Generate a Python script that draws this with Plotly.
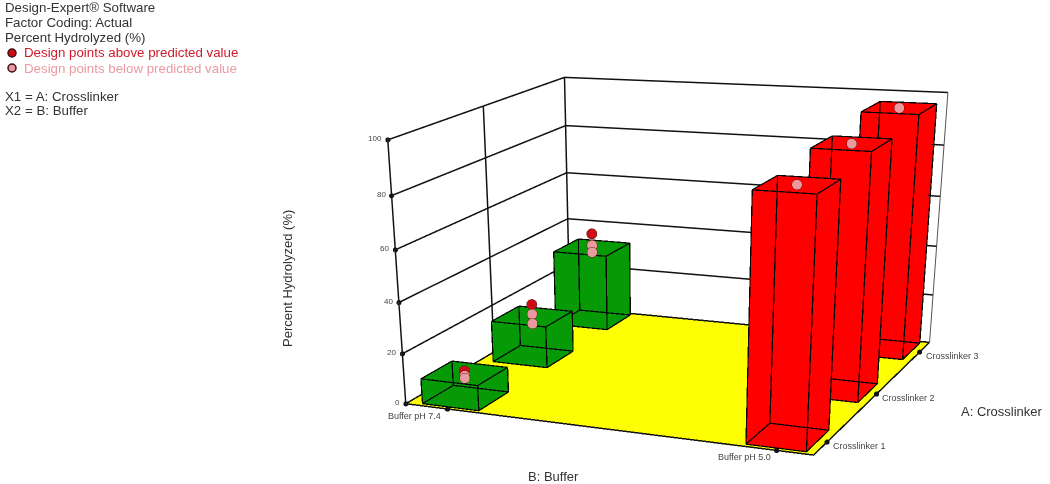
import plotly.graph_objects as go

# factor levels
buffers = ["Buffer pH 7.4", "Buffer pH 5.0"]
crosslinkers = ["Crosslinker 1", "Crosslinker 2", "Crosslinker 3"]

# bar heights, one list per buffer, in crosslinker order
percent_ph74 = [10, 17, 32]
percent_ph50 = [90, 93, 96]

# design points around the bars
above_ph74 = [11, 22, 38]
below_ph74_a = [9, 18, 33]
below_ph74_b = [8, 14, 30]
below_ph50 = [90, 93, 96]

z_ticks = [0, 20, 40, 60, 80, 100]

info_lines = ["Design-Expert® Software", "Factor Coding: Actual", "Percent Hydrolyzed (%)"]
info_above = "Design points above predicted value"
info_below = "Design points below predicted value"
info_factors = ["X1 = A: Crosslinker", "X2 = B: Buffer"]

FIG_W = 1050
FIG_H = 1500  # view angle is fixed at 45 degrees, so the scene must be this tall for the flat perspective

X_RANGE = [-0.139, 1.103]
Y_RANGE = [0.75, 3.25]
Z_RANGE = [0, 100]
PAD = 0.005  # scene slightly larger than the frame, lines on its bounds get clipped otherwise
BAR_CX = [0, 0.992]
BAR_DX = [0.093, 0.085]
BAR_DY = 0.21

GREEN = "#069b06"
RED = "#ff0000"
YELLOW = "#ffff00"
FLAT = dict(ambient=1, diffuse=0, specular=0, roughness=1, fresnel=0)


def py(y):
    return 1 - y / FIG_H


def padded(r):
    d = (r[1] - r[0]) * PAD
    return [r[0] - d, r[1] + d]


def box_mesh(x0, x1, y0, y1, z0, z1, color):
    return go.Mesh3d(
        x=[x0, x1, x1, x0, x0, x1, x1, x0],
        y=[y0, y0, y1, y1, y0, y0, y1, y1],
        z=[z0, z0, z0, z0, z1, z1, z1, z1],
        i=[0, 0, 4, 4, 0, 0, 1, 1, 2, 2, 3, 3],
        j=[1, 2, 5, 6, 1, 5, 2, 6, 3, 7, 0, 4],
        k=[2, 3, 6, 7, 5, 4, 6, 5, 7, 6, 4, 7],
        color=color,
        opacity=0.99,
        lighting=FLAT,
        flatshading=True,
        hoverinfo="skip",
        showscale=False,
    )


def box_edges(x0, x1, y0, y1, z0, z1):
    xs, ys, zs = [], [], []
    for a, b in [
        ((x0, y0, z0), (x1, y0, z0)), ((x1, y0, z0), (x1, y1, z0)),
        ((x1, y1, z0), (x0, y1, z0)), ((x0, y1, z0), (x0, y0, z0)),
        ((x0, y0, z1), (x1, y0, z1)), ((x1, y0, z1), (x1, y1, z1)),
        ((x1, y1, z1), (x0, y1, z1)), ((x0, y1, z1), (x0, y0, z1)),
        ((x0, y0, z0), (x0, y0, z1)), ((x1, y0, z0), (x1, y0, z1)),
        ((x1, y1, z0), (x1, y1, z1)), ((x0, y1, z0), (x0, y1, z1)),
    ]:
        xs += [a[0], b[0], None]
        ys += [a[1], b[1], None]
        zs += [a[2], b[2], None]
    return go.Scatter3d(
        x=xs, y=ys, z=zs, mode="lines", opacity=0.99,
        line=dict(color="#050505", width=2.5),
        hoverinfo="skip", showlegend=False,
    )


def frame_line(xs, ys, zs, color="#111111", width=3, opacity=1):
    return go.Scatter3d(
        x=xs, y=ys, z=zs, mode="lines", opacity=opacity,
        line=dict(color=color, width=width),
        hoverinfo="skip", showlegend=False,
    )


fig = go.Figure()

x0, x1 = X_RANGE
y0, y1 = Y_RANGE

# walls
for t in z_ticks[1:]:
    fig.add_trace(frame_line([x0, x0, x1], [y0, y1, y1], [t, t, t]))
fig.add_trace(frame_line([x0, x0], [y0, y0], Z_RANGE))
fig.add_trace(frame_line([x0, x0], [2, 2], Z_RANGE))
fig.add_trace(frame_line([x0, x0], [y1, y1], Z_RANGE))
fig.add_trace(frame_line([x1, x1], [y1, y1], Z_RANGE, color="#555555", width=2))

# floor goes in the blended pass too, so the bars never fight with it for depth
fig.add_trace(go.Mesh3d(
    x=[x0, x1, x1, x0], y=[y0, y0, y1, y1], z=[0, 0, 0, 0],
    i=[0, 0], j=[1, 2], k=[2, 3], opacity=0.99,
    color=YELLOW, lighting=FLAT, flatshading=True, hoverinfo="skip",
))
fig.add_trace(frame_line([x1, x0, x0, x1, x1], [y1, y1, y0, y0, y1], [0] * 5, opacity=0.99))

# axis tick dots
fig.add_trace(go.Scatter3d(
    x=[x0] * len(z_ticks) + [0, 1, x1, x1, x1],
    y=[y0] * len(z_ticks) + [y0, y0, 1, 2, 3],
    z=z_ticks + [0, 0, 0, 0, 0],
    mode="markers", opacity=0.99, marker=dict(size=3, color="#111111"),
    hoverinfo="skip", showlegend=False,
))

# bars, back to front
for n in [2, 1, 0]:
    cy = n + 1
    for b, val in [(0, percent_ph74[n]), (1, percent_ph50[n])]:
        color = GREEN if b == 0 else RED
        box = (BAR_CX[b] - BAR_DX[b], BAR_CX[b] + BAR_DX[b], cy - BAR_DY, cy + BAR_DY, 0, val)
        fig.add_trace(box_mesh(*box, color))
        fig.add_trace(box_edges(*box))

# design points
levels = [1, 2, 3]
for vals, bx, fill in [
    (above_ph74, BAR_CX[0], "#cc0a14"),
    (below_ph74_a, BAR_CX[0], "#eb9aa0"),
    (below_ph74_b, BAR_CX[0], "#eb9aa0"),
    (below_ph50, BAR_CX[1], "#eb9aa0"),
]:
    fig.add_trace(go.Scatter3d(
        x=[bx] * 3, y=levels, z=vals, mode="markers", opacity=0.99,
        marker=dict(size=6, color=fill, line=dict(color="#6a1a1a", width=1)),
        hoverinfo="skip", showlegend=False,
    ))

# tick labels live on the scene so they follow its projection
scene_labels = []
for t in z_ticks:
    scene_labels.append(dict(
        x=x0, y=y0, z=t, text=str(t), showarrow=False,
        xanchor="right", xshift=-4, yshift=1,
        font=dict(size=8, color="#444444"),
    ))
for i, name in enumerate(buffers):
    scene_labels.append(dict(
        x=i, y=y0, z=0, text=name, showarrow=False,
        xanchor="right", xshift=-4, yshift=-7,
        font=dict(size=9, color="#444444"),
    ))
for i, name in enumerate(crosslinkers):
    scene_labels.append(dict(
        x=x1, y=i + 1, z=0, text=name, showarrow=False,
        xanchor="left", xshift=4, yshift=-4,
        font=dict(size=9, color="#444444"),
    ))

blank = dict(visible=False, showspikes=False)

annotations = []
for text, y, color in [
    (info_lines[0], 8, "#333333"),
    (info_lines[1], 23, "#333333"),
    (info_lines[2], 38, "#333333"),
    (info_above, 53, "#d01a2a"),
    (info_below, 68, "#eb9aa0"),
    (info_factors[0], 96, "#333333"),
    (info_factors[1], 111, "#333333"),
]:
    x = 22 if text in (info_above, info_below) else 3
    annotations.append(dict(
        x=x / FIG_W, y=py(y), xref="paper", yref="paper", text=text, showarrow=False,
        xanchor="left", yanchor="middle", font=dict(size=13.3, color=color),
    ))
for text, x, y, angle in [
    ("Percent Hydrolyzed (%)", 288, 279, -90),
    ("B: Buffer", 553, 476, 0),
    ("A: Crosslinker", 1002, 411, 0),
]:
    annotations.append(dict(
        x=x / FIG_W, y=py(y), xref="paper", yref="paper", text=text, textangle=angle,
        showarrow=False, xanchor="center", yanchor="middle",
        font=dict(size=13, color="#333333"),
    ))

shapes = []
for y, fill in [(53, "#cc0a14"), (68, "#eb9aa0")]:
    shapes.append(dict(
        type="circle", xref="paper", yref="paper",
        x0=8 / FIG_W, x1=16 / FIG_W, y0=py(y + 4), y1=py(y - 4),
        fillcolor=fill, line=dict(color="#3a1010", width=1.5),
    ))

grow = 1 + 2 * PAD

fig.update_layout(
    width=FIG_W,
    height=FIG_H,
    margin=dict(l=0, r=0, t=0, b=0),
    paper_bgcolor="white",
    font=dict(family="Liberation Sans"),
    showlegend=False,
    annotations=annotations,
    shapes=shapes,
    scene=dict(
        domain=dict(x=[0, 1], y=[0, 1]),
        xaxis=dict(range=padded(X_RANGE), **blank),
        yaxis=dict(range=padded(Y_RANGE), **blank),
        zaxis=dict(range=padded(Z_RANGE), **blank),
        aspectmode="manual",
        aspectratio=dict(x=1.675 * grow, y=1.507 * grow, z=grow),
        bgcolor="white",
        camera=dict(
            projection=dict(type="perspective"),
            eye=dict(x=2.746, y=-6.689, z=1.695),
            center=dict(x=-0.165, y=-1.141, z=-1.715),
            up=dict(x=-0.187, y=0.441, z=0.878),
        ),
        annotations=scene_labels,
    ),
)

fig.write_html(
    "out.html",
    config={"displayModeBar": False},
    post_script="document.body.style.margin='0';document.documentElement.style.overflow='hidden';",
)
